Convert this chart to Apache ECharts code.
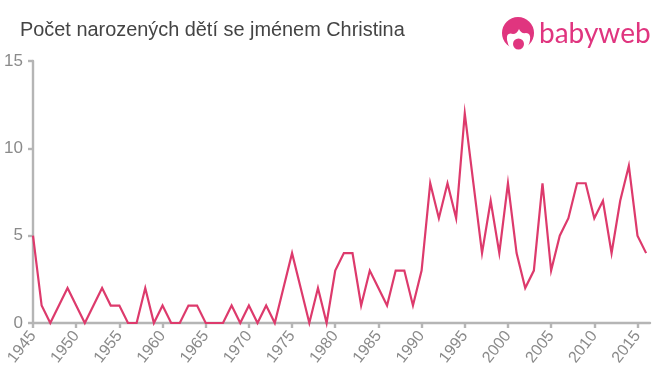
<!DOCTYPE html>
<html>
<head>
<meta charset="utf-8">
<style>
  html, body { margin: 0; padding: 0; background: #fff; }
  #chart { width: 660px; height: 375px; }
</style>
<script src="https://cdn.jsdelivr.net/npm/echarts@6/dist/echarts.min.js"></script>
</head>
<body>
<div id="chart"></div>
<script>
const titleText = "Počet narozených dětí se jménem Christina";
const logoText = "babyweb";
const firstYear = 1945;
const births = [
  5, 1, 0, 1, 2, 1, 0, 1, 2, 1,
  1, 0, 0, 2, 0, 1, 0, 0, 1, 1,
  0, 0, 0, 1, 0, 1, 0, 1, 0, 2,
  4, 2, 0, 2, 0, 3, 4, 4, 1, 3,
  2, 1, 3, 3, 1, 3, 8, 6, 8, 6,
  12, 8, 4, 7, 4, 8, 4, 2, 3, 8,
  3, 5, 6, 8, 8, 6, 7, 4, 7, 9,
  5, 4
];
const xTicks = [1945, 1950, 1955, 1960, 1965, 1970, 1975, 1980, 1985, 1990, 1995, 2000, 2005, 2010, 2015];
const yTicks = [0, 5, 10, 15];

const font = '"Liberation Sans", Arial, sans-serif';
const pink = "#e0357f";
const axisGray = "#b5b5b5";
const labelGray = "#8a8a8a";

// face cutout of the logo
echarts.graphic.registerShape("logoFace", echarts.graphic.extendPath(
  "M507 40 Q506 32 513 34 Q517 34 519 29 Q521 34 526 33 Q531 33 530 40 Q528 52 518 52 Q509 52 507 40 Z"
));

const chart = echarts.init(document.getElementById("chart"), null, { renderer: "canvas" });
chart.setOption({
  animation: false,
  backgroundColor: "#fff",
  title: {
    text: titleText,
    left: 20,
    top: 21,
    padding: 0,
    textStyle: { fontFamily: font, fontSize: 19.9, fontWeight: "normal", color: "#444" }
  },
  grid: { left: 33, right: 10, top: 61, bottom: 52 },
  xAxis: {
    type: "value",
    min: firstYear,
    max: 2016.45,
    interval: 5,
    splitLine: { show: false },
    axisLine: { lineStyle: { color: axisGray, width: 2.4 } },
    axisTick: { length: 5, customValues: xTicks, lineStyle: { color: axisGray, width: 2.4 } },
    axisLabel: {
      customValues: xTicks,
      rotate: 52,
      margin: 10,
      fontFamily: font,
      fontSize: 16,
      color: labelGray,
      formatter: (v) => String(v)
    }
  },
  yAxis: {
    type: "value",
    min: 0,
    max: 15,
    interval: 5,
    splitLine: { show: false },
    axisLine: { show: true, lineStyle: { color: axisGray, width: 2.4 } },
    axisTick: { show: true, length: 5, customValues: yTicks, lineStyle: { color: axisGray, width: 2.4 } },
    axisLabel: { customValues: yTicks, margin: 10, fontFamily: font, fontSize: 17, color: labelGray }
  },
  series: [{
    type: "line",
    data: births.map((v, i) => [firstYear + i, v]),
    symbol: "none",
    clip: false,
    lineStyle: { color: "#dd3a6c", width: 2.2, join: "miter" }
  }],
  graphic: [
    { type: "circle", shape: { cx: 518, cy: 33, r: 16 }, style: { fill: pink } },
    { type: "logoFace", shape: {}, style: { fill: "#fff" } },
    { type: "circle", shape: { cx: 518.5, cy: 44, r: 5.5 }, style: { fill: pink } },
    {
      type: "text",
      left: 539,
      top: 20,
      style: { text: logoText, fontFamily: "Lato, sans-serif", fontSize: 28, fill: pink }
    }
  ]
});
</script>
</body>
</html>
